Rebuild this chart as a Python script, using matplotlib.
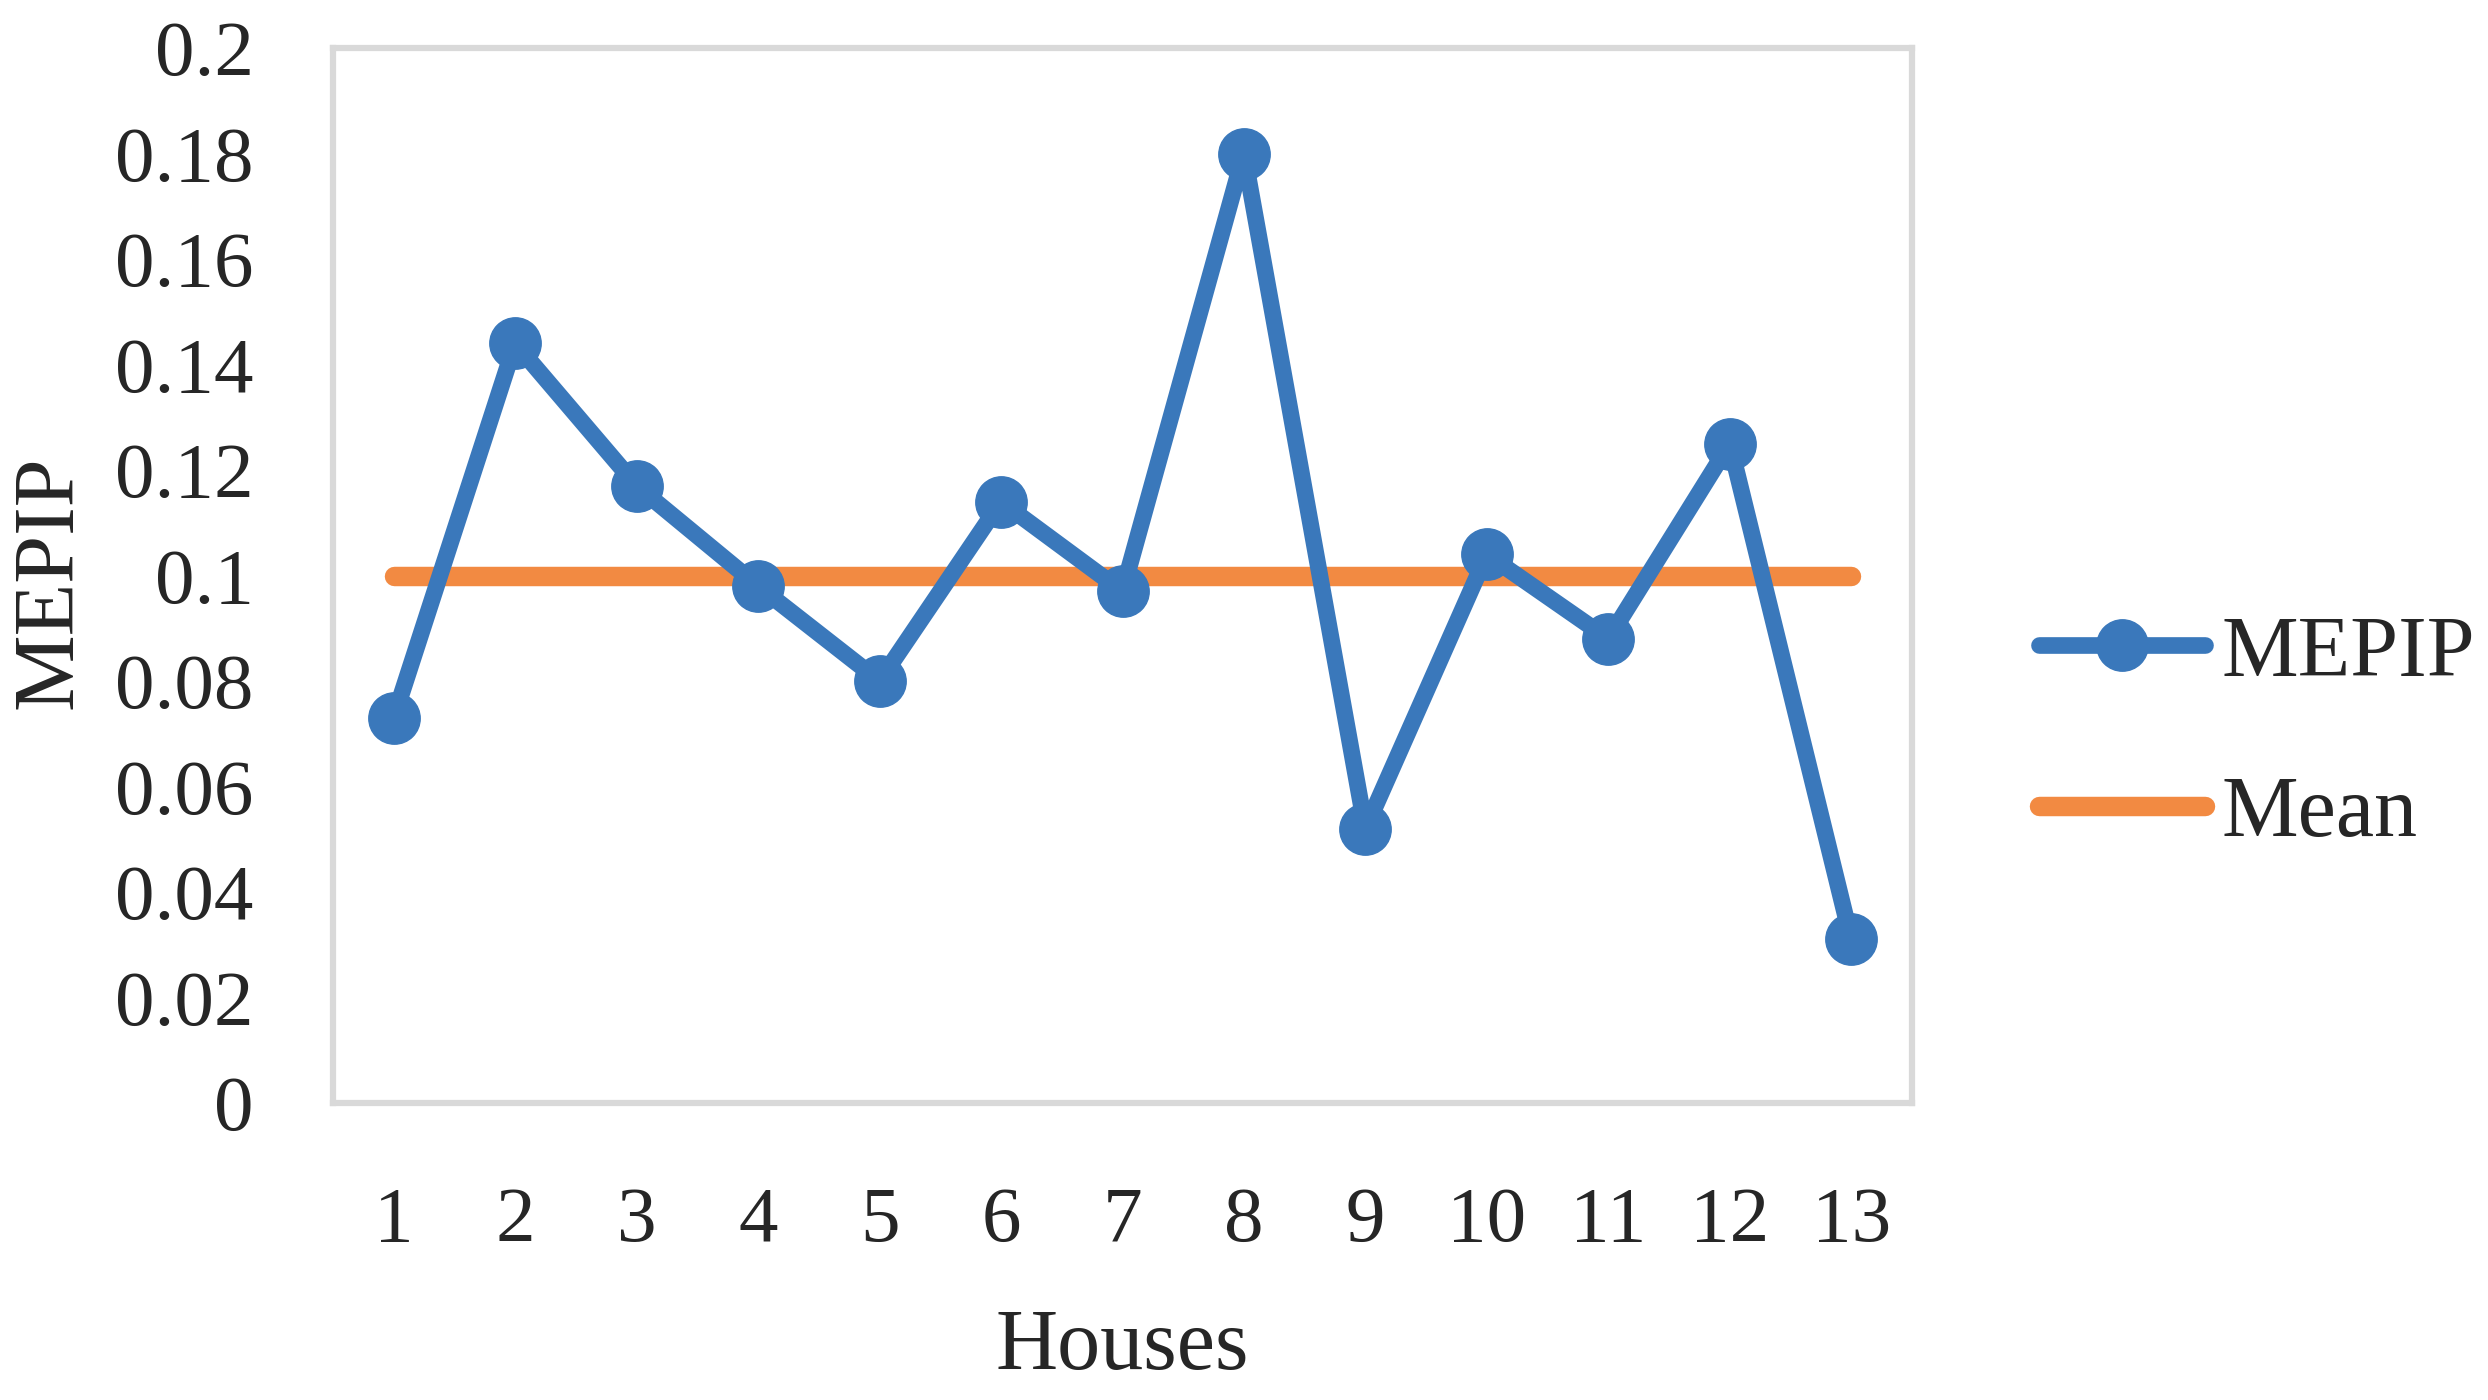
import matplotlib
matplotlib.use("Agg")
import matplotlib.pyplot as plt

houses = list(range(1, 14))
mepip = [0.073, 0.144, 0.117, 0.098, 0.080, 0.114, 0.097, 0.180, 0.052, 0.104, 0.088, 0.125, 0.031]
mean_val = [0.100] * 13
yticks = [0, 0.02, 0.04, 0.06, 0.08, 0.1, 0.12, 0.14, 0.16, 0.18, 0.2]
ytick_labels = ["0", "0.02", "0.04", "0.06", "0.08", "0.1", "0.12", "0.14", "0.16", "0.18", "0.2"]

plt.rcParams['font.family'] = ['Liberation Serif', 'DejaVu Serif']

W, H = 2488, 1400
L, R, T, B = 333, 1912, 48, 1103
fig = plt.figure(figsize=(W / 100, H / 100), dpi=100)
ax = fig.add_axes([L / W, 1 - B / H, (R - L) / W, (B - T) / H])

blue = '#3A78BB'
orange = '#F28A42'
ax.plot(houses, mepip, color=blue, lw=12, marker='o', markersize=37,
        solid_capstyle='round', solid_joinstyle='round', label='MEPIP', zorder=3,
        clip_on=False)
ax.plot(houses, mean_val, color=orange, lw=14, solid_capstyle='round',
        label='Mean', zorder=2)

ax.set_xlim(0.5, 13.5)
ax.set_ylim(0, 0.2)
ax.set_xticks(houses)
ax.set_xticklabels([str(h) for h in houses])
ax.set_yticks(yticks)
ax.set_yticklabels(ytick_labels)
ax.tick_params(axis='both', length=0, labelsize=57, colors='#262626')
ax.tick_params(axis='y', pad=57)
ax.tick_params(axis='x', pad=60)
for s in ax.spines.values():
    s.set_color('#D9D9D9')
    s.set_linewidth(4.5)

ax.set_xlabel('Houses', fontsize=62, color='#262626')
ax.set_ylabel('MEPIP', fontsize=62, color='#262626')
ax.xaxis.set_label_coords(0.5, -(1348 - B) / (B - T), transform=ax.transAxes)
ax.xaxis.label.set_va('center')
ax.yaxis.set_label_coords(-(L - 51) / (R - L), 0.5 - (582 - (T + B) / 2) / (B - T),
                          transform=ax.transAxes)
ax.yaxis.label.set_va('center')

leg = ax.legend(loc='center left', bbox_to_anchor=((2039 - L) / (R - L), (B - 735) / (B - T)),
                frameon=False, fontsize=62, handlelength=1.93, labelspacing=0.94,
                handletextpad=0.19, borderaxespad=0, borderpad=0)
for t in leg.get_texts():
    t.set_color('#262626')

fig.savefig('out.png', dpi=100, facecolor='white')
